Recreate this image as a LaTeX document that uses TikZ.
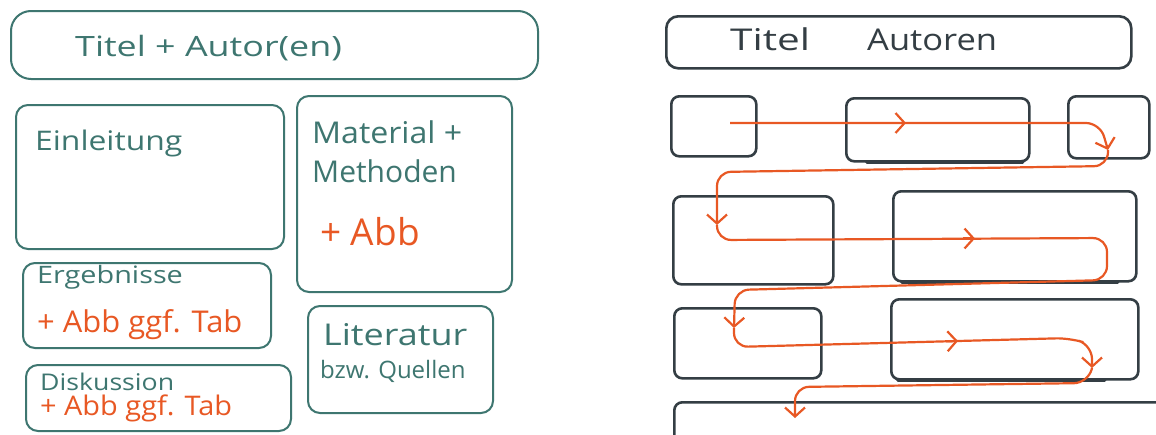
\documentclass[tikz,border=0pt]{standalone}
\usepackage{fontspec}
\setmainfont{Open Sans}
\usetikzlibrary{arrows.meta,calc}
\definecolor{tealink}{RGB}{62,118,112}
\definecolor{darkink}{RGB}{52,62,68}
\definecolor{orangeink}{RGB}{232,88,36}
\begin{document}
\begin{tikzpicture}[x=1pt,y=-1pt,
  lbox/.style={draw=tealink, line width=2pt, rounded corners=12pt, anchor=north west, inner sep=0pt},
  rbox/.style={draw=darkink, line width=2.6pt, rounded corners=8pt, anchor=north west, inner sep=0pt},
  fs/.style={font=\fontsize{#1pt}{#1pt}\selectfont},
  ltext/.style={text=tealink, anchor=base west, inner sep=0pt},
  otext/.style={text=orangeink, anchor=base west, inner sep=0pt},
  rtext/.style={text=darkink, anchor=base west, inner sep=0pt},
  opath/.style={draw=orangeink, line width=2.2pt, rounded corners=14pt},
  otip/.style={-{Straight Barb[length=9pt,width=20pt]}},
  heavy/.style={draw=darkink, line width=3.6pt, line cap=round}
]
\useasboundingbox[fill=white] (0,0) rectangle (1156,434);

% ---------- left sketch ----------
\node[lbox, rounded corners=20pt, minimum width=527pt, minimum height=68pt] (ltitle) at (10,10) {};
\node[lbox, minimum width=268pt, minimum height=144pt] (einl) at (15,104) {};
\node[lbox, minimum width=215pt, minimum height=196pt] (mat) at (296,95) {};
\node[lbox, minimum width=248pt, minimum height=85pt] (erg) at (22,262) {};
\node[lbox, minimum width=265pt, minimum height=66pt] (disk) at (25,364) {};
\node[lbox, minimum width=185pt, minimum height=107pt] (lit) at (307,305) {};

\node[ltext, fs=28] (tTitle) at (75,56) {\scalebox{1.28}[1]{Titel + Autor(en)}};
\node[ltext, fs=27] (tEinl) at (35,150) {\scalebox{1.18}[1]{Einleitung}};
\node[ltext, fs=30] (tMat) at (312,143) {\scalebox{1.07}[1]{Material +}};
\node[ltext, fs=30] (tMeth) at (312,182) {Methoden};
\node[otext, fs=37] (tAbb) at (320,245) {+ Abb};
\node[ltext, fs=24] (tErg) at (37,283) {\scalebox{1.2}[1]{Ergebnisse}};
\node[otext, fs=30] (tErgA) at (37,332) {\scalebox{1.03}[1]{+ Abb ggf. Tab}};
\node[ltext, fs=23] (tDisk) at (40,390) {\scalebox{1.16}[1]{Diskussion}};
\node[otext, fs=27] (tDiskA) at (40,415) {\scalebox{1.07}[1]{+ Abb ggf. Tab}};
\node[ltext, fs=30] (tLit) at (323,345) {\scalebox{1.2}[1]{Literatur}};
\node[ltext, fs=24] (tQuel) at (320,378) {bzw. Quellen};

% ---------- right sketch ----------
\node[rbox, rounded corners=12pt, minimum width=465pt, minimum height=52pt] (rtitle) at (665,15) {};
\node[rtext, fs=30] (tRT) at (730,50) {\scalebox{1.35}[1]{Titel}};
\node[rtext, fs=30] (tRA) at (867,50) {\scalebox{1.15}[1]{Autoren}};

\node[rbox, minimum width=85pt, minimum height=60pt] (bA) at (670,95) {};
\node[rbox, minimum width=183pt, minimum height=63pt] (bB) at (845,97) {};
\node[rbox, minimum width=81pt, minimum height=62pt] (bC) at (1067,95) {};
\node[rbox, minimum width=160pt, minimum height=88pt] (bD) at (672,195) {};
\node[rbox, minimum width=243pt, minimum height=90pt] (bE) at (892,190) {};
\node[rbox, minimum width=147pt, minimum height=70pt] (bF) at (673,307) {};
\node[rbox, minimum width=247pt, minimum height=80pt] (bG) at (890,298) {};
\begin{scope}
  \clip (0,0) rectangle (1156,434);
  \node[rbox, minimum width=520pt, minimum height=80pt] (bH) at (673,401) {};
\end{scope}

% heavier strokes on some box bottoms
\draw[heavy] ($(bB.south west)+(22,0)$) -- ($(bB.south east)+(-8,0)$);
\draw[heavy] ($(bG.south west)+(8,0)$) -- ($(bG.south east)+(-35,0)$);
\draw[heavy] ($(bE.south west)+(10,0)$) -- ($(bE.south east)+(-20,0)$);

% ---------- orange reading path ----------
\coordinate (p0) at (730,123);
\coordinate (p1) at (1108,150);
\coordinate (p2) at (717,225);
\coordinate (p3) at (734,328);
\coordinate (p4) at (1092,368);
\coordinate (p5) at (795,418);

\draw[opath, otip] (p0) -- (1100,123) -- (p1);
\draw[opath, otip] (p1) -- (1108,166) -- (717,172) -- (p2);
\draw[opath, otip] (p2) -- (717,240) -- (1107,238) -- (1107,280) -- (735,290) -- (p3);
\draw[opath, otip] (p3) -- (734,347) -- (1070,338) -- (1092,345) -- (p4);
\draw[opath, otip] (p4) -- (1088,383) -- (795,387) -- (p5);

\coordinate (m1) at (906,123);
\coordinate (m2) at (975,238.5);
\coordinate (m3) at (958,341);
\draw[orangeink, line width=2.2pt, otip] ($(m1)+(-12,0)$) -- (m1);
\draw[orangeink, line width=2.2pt, otip] ($(m2)+(-12,0)$) -- (m2);
\draw[orangeink, line width=2.2pt, otip] ($(m3)+(-12,0.3)$) -- (m3);
\end{tikzpicture}
\end{document}
